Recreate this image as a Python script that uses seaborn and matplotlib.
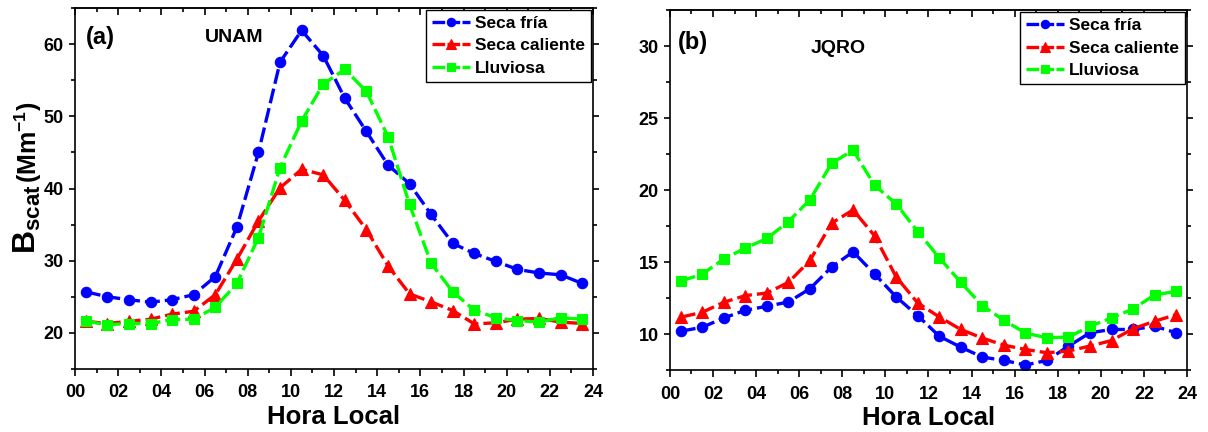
import matplotlib
matplotlib.use("Agg")
import matplotlib.pyplot as plt
from matplotlib.ticker import MultipleLocator, FixedLocator
import seaborn as sns
import pandas as pd

sns.set_theme(style="ticks")
plt.rcParams["font.family"] = ["Liberation Sans", "DejaVu Sans"]
plt.rcParams["font.weight"] = "bold"
plt.rcParams["text.color"] = "black"
plt.rcParams["axes.labelcolor"] = "black"
plt.rcParams["mathtext.fontset"] = "custom"
plt.rcParams["mathtext.rm"] = "Liberation Sans:bold"
plt.rcParams["mathtext.bf"] = "Liberation Sans:bold"
plt.rcParams["mathtext.it"] = "Liberation Sans:bold"
plt.rcParams["mathtext.default"] = "bf"

# Hourly means (local time, bin centres)
hours = [0.5, 1.5, 2.5, 3.5, 4.5, 5.5, 6.5, 7.5, 8.5, 9.5, 10.5, 11.5,
         12.5, 13.5, 14.5, 15.5, 16.5, 17.5, 18.5, 19.5, 20.5, 21.5, 22.5, 23.5]

seasons = ["Seca fría", "Seca caliente", "Lluviosa"]

# UNAM site, B_scat (Mm^-1)
unam_fria = [25.7, 25.0, 24.6, 24.25, 24.6, 25.3, 27.8, 34.65, 45.0, 57.5, 61.9, 58.4,
             52.5, 47.9, 43.25, 40.65, 36.4, 32.4, 31.0, 29.9, 28.8, 28.3, 28.05, 26.85]
unam_caliente = [21.6, 21.3, 21.6, 21.9, 22.6, 23.0, 25.3, 30.2, 35.5, 40.1, 42.65, 41.9,
                 38.35, 34.3, 29.3, 25.4, 24.3, 23.1, 21.25, 21.4, 21.9, 22.0, 21.5, 21.3]
unam_lluviosa = [21.6, 21.15, 21.3, 21.3, 21.85, 21.9, 23.55, 26.85, 33.2, 42.9, 49.35, 54.45,
                 56.5, 53.45, 47.2, 37.8, 29.65, 25.7, 23.15, 22.1, 21.7, 21.5, 22.1, 21.9]

# JQRO site, B_scat (Mm^-1)
jqro_fria = [10.23, 10.5, 11.15, 11.68, 11.96, 12.26, 13.18, 14.68, 15.74, 14.2, 12.61, 11.31,
             9.88, 9.12, 8.43, 8.2, 7.88, 8.2, 9.19, 10.12, 10.35, 10.35, 10.57, 10.12]
jqro_caliente = [11.2, 11.54, 12.24, 12.7, 12.88, 13.62, 15.14, 17.73, 18.65, 16.85, 14.0, 12.19,
                 11.22, 10.35, 9.75, 9.26, 8.96, 8.73, 8.85, 9.2, 9.58, 10.4, 10.92, 11.38]
jqro_lluviosa = [13.7, 14.2, 15.24, 16.0, 16.67, 17.84, 19.36, 21.88, 22.8, 20.36, 19.07, 17.15,
                 15.33, 13.62, 12.0, 10.99, 10.1, 9.77, 9.82, 10.57, 11.15, 11.78, 12.75, 13.0]

xtick_values = [0, 2, 4, 6, 8, 10, 12, 14, 16, 18, 20, 22, 24]
xtick_labels = ["00", "02", "04", "06", "08", "10", "12", "14", "16", "18", "20", "22", "24"]

colors = {"Seca fría": "#0000FF", "Seca caliente": "#FF0000", "Lluviosa": "#00FF00"}
markers = {"Seca fría": "o", "Seca caliente": "^", "Lluviosa": "s"}
msizes = {"Seca fría": 7.5, "Seca caliente": 8.5, "Lluviosa": 6.8}

fig = plt.figure(figsize=(12.08, 4.32), dpi=100)
ax_a = fig.add_axes([0.0621, 0.1458, 0.4288, 0.8357])
ax_b = fig.add_axes([0.5546, 0.1424, 0.4280, 0.8333])


def draw_panel(ax, series, ylim, ymajor, yminor, tag, site, tag_xy, site_xy):
    for name, vals in zip(seasons, series):
        df = pd.DataFrame({"hora": hours, "bscat": vals})
        sns.lineplot(data=df, x="hora", y="bscat", ax=ax, color=colors[name],
                     marker=markers[name], markersize=msizes[name],
                     markeredgecolor=colors[name], markeredgewidth=0.8,
                     linewidth=2.4, linestyle=(0, (4.5, 1.5)), label=name)
    ax.set_xlim(0, 24)
    ax.set_ylim(*ylim)
    ax.xaxis.set_major_locator(FixedLocator(xtick_values))
    ax.set_xticklabels(xtick_labels)
    ax.xaxis.set_minor_locator(MultipleLocator(1))
    ax.yaxis.set_major_locator(MultipleLocator(ymajor))
    ax.yaxis.set_minor_locator(MultipleLocator(yminor))
    ax.set_ylabel("")
    ax.set_xlabel("Hora Local", fontsize=18.5, fontweight="bold", labelpad=2.5,
                  color="black")
    for sp in ax.spines.values():
        sp.set_visible(True)
        sp.set_linewidth(1.2)
        sp.set_color("black")
    ax.tick_params(axis="both", which="both", direction="out", width=1.2,
                   colors="black", labelsize=13, right=True, top=False)
    ax.tick_params(axis="x", which="major", length=5, pad=6)
    ax.tick_params(axis="x", which="minor", length=3)
    ax.tick_params(axis="y", which="major", length=4, pad=4)
    ax.tick_params(axis="y", which="minor", length=3)
    for lab in ax.get_xticklabels() + ax.get_yticklabels():
        lab.set_fontweight("bold")
    top = ax.secondary_xaxis("top")
    top.xaxis.set_major_locator(FixedLocator(xtick_values))
    top.xaxis.set_minor_locator(MultipleLocator(1))
    top.tick_params(axis="x", which="both", direction="in", labeltop=False,
                    width=1.2, colors="black")
    top.tick_params(axis="x", which="major", length=5)
    top.tick_params(axis="x", which="minor", length=3)
    top.spines["top"].set_linewidth(1.2)

    leg = ax.legend(loc="upper right", frameon=True, fancybox=False,
                    edgecolor="black", borderaxespad=0.1, handlelength=2.2,
                    handletextpad=0.3, labelspacing=0.42, borderpad=0.35,
                    markerscale=0.8, prop={"weight": "bold", "size": 12.5})
    leg.get_frame().set_linewidth(1.0)
    leg.get_frame().set_alpha(1)
    for h in leg.legend_handles:
        h.set_linestyle((0, (3.8, 0.7)))
    for t in leg.get_texts():
        t.set_color("black")

    ax.text(tag_xy[0], tag_xy[1], tag, transform=ax.transAxes, fontsize=17,
            fontweight="bold", ha="left", va="center", color="black")
    ax.text(site_xy[0], site_xy[1], site, transform=ax.transAxes, fontsize=14,
            fontweight="bold", ha="center", va="center", color="black")


draw_panel(ax_a, [unam_fria, unam_caliente, unam_lluviosa], (15, 65), 10, 5,
           "(a)", "UNAM", (0.02, 0.917), (0.307, 0.917))
draw_panel(ax_b, [jqro_fria, jqro_caliente, jqro_lluviosa], (7.5, 32.5), 5, 2.5,
           "(b)", "JQRO", (0.015, 0.91), (0.325, 0.895))

# y-axis title: large B with subscript, then the unit
fig.text(36 / 1208, 1 - 254 / 432, r"B$_{\mathbf{scat}}$", fontsize=23, fontweight="bold",
         rotation=90, rotation_mode="anchor", ha="left", va="baseline", color="black")
fig.text(37.5 / 1208, 1 - 183 / 432, r"(Mm$^{\mathbf{-1}}$)", fontsize=18, fontweight="bold",
         rotation=90, rotation_mode="anchor", ha="left", va="baseline", color="black")

fig.savefig("out.png", dpi=100)
